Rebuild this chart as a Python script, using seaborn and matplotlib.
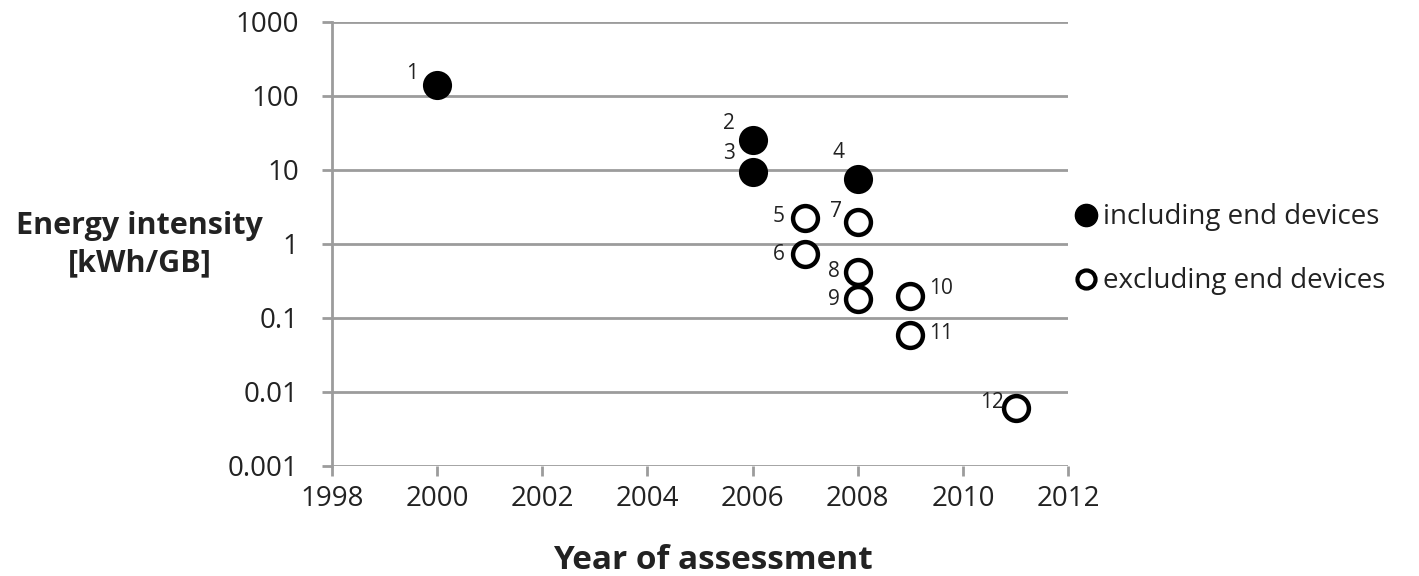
import matplotlib
matplotlib.use("Agg")
import matplotlib.pyplot as plt
import seaborn as sns
import pandas as pd
from matplotlib.lines import Line2D

sns.set_theme(style="white")
plt.rcParams['font.family'] = ['Open Sans', 'DejaVu Sans']

ids = [1, 2, 3, 4, 5, 6, 7, 8, 9, 10, 11, 12]
years = [2000, 2006, 2006, 2008, 2007, 2007, 2008, 2008, 2008, 2009, 2009, 2011]
intensity = [141, 25.4, 9.5, 7.6, 2.24, 0.73, 2.0, 0.42, 0.18, 0.20, 0.059, 0.0061]
scope = ["including", "including", "including", "including",
         "excluding", "excluding", "excluding", "excluding",
         "excluding", "excluding", "excluding", "excluding"]
legend_labels = ["including end devices", "excluding end devices"]
y_ticks = [0.001, 0.01, 0.1, 1, 10, 100, 1000]
y_ticklabels = ["0.001", "0.01", "0.1", "1", "10", "100", "1000"]
x_ticks = [1998, 2000, 2002, 2004, 2006, 2008, 2010, 2012]

df = pd.DataFrame({"id": ids, "year": years, "val": intensity, "scope": scope})

TXT = "#222222"
GRID = "#9c9c9c"

fig = plt.figure(figsize=(14.19, 5.76), dpi=100)
ax = fig.add_axes([0.234, 0.191, 0.5187, 0.771])

inc = df[df.scope == "including"]
exc = df[df.scope == "excluding"]
sns.scatterplot(data=inc, x="year", y="val", ax=ax, s=440, color="black",
                edgecolor="black", linewidth=0, zorder=3, legend=False)
sns.scatterplot(data=exc, x="year", y="val", ax=ax, s=320, facecolor="white",
                edgecolor="black", linewidth=3.2, zorder=3, legend=False)

ax.set_yscale("log")
ax.set_ylim(0.001, 1000)
ax.set_xlim(1998, 2012)
ax.set_yticks(y_ticks)
ax.set_yticklabels(y_ticklabels)
ax.minorticks_off()
ax.set_xticks(x_ticks)
ax.set_xticklabels([str(t) for t in x_ticks])

ax.grid(axis="y", color=GRID, linewidth=2.0)
ax.set_axisbelow(True)
for s in ["top", "right", "bottom"]:
    ax.spines[s].set_visible(False)
ax.spines["left"].set_color(GRID)
ax.spines["left"].set_linewidth(2.0)
ax.tick_params(axis="y", length=7, width=2.0, color=GRID, direction="out",
               labelsize=20, pad=17, left=True)
ax.tick_params(axis="x", length=7, width=2.0, color=GRID, direction="out",
               labelsize=20, pad=7, bottom=True)
for lab in ax.get_xticklabels() + ax.get_yticklabels():
    lab.set_color(TXT)

ax.set_xlabel("Year of assessment", fontsize=24, fontweight="bold", labelpad=22,
              color=TXT, x=0.518)
ax.set_ylabel("")
fig.text(0.0985, 0.575, "Energy intensity\n[kWh/GB]", ha="center", va="center",
         fontsize=22, fontweight="bold", color=TXT, linespacing=1.3)

# point label offsets (points, centre of label relative to marker)
offsets = {1: (-18, 8), 2: (-17, 12), 3: (-17, 13), 4: (-14, 19),
           5: (-19, 1), 6: (-19, 0), 7: (-16, 7), 8: (-17, 0), 9: (-17, 0),
           10: (22, 5), 11: (22, 1), 12: (-17, 4)}
for i, x, y in zip(ids, years, intensity):
    dx, dy = offsets[i]
    ax.annotate(str(i), (x, y), xytext=(dx, dy), textcoords="offset points",
                ha="center", va="center", fontsize=15, color=TXT)

handles = [Line2D([], [], marker="o", linestyle="", markersize=16,
                  markerfacecolor="black", markeredgecolor="black"),
           Line2D([], [], marker="o", linestyle="", markersize=13,
                  markerfacecolor="white", markeredgecolor="black",
                  markeredgewidth=3)]
fig.legend(handles, legend_labels, loc="center left",
           bbox_to_anchor=(0.736, 0.567), frameon=False, fontsize=20,
           handletextpad=0.0, labelspacing=1.3, handlelength=1.2,
           labelcolor=TXT)

fig.savefig("out.png", dpi=100)
